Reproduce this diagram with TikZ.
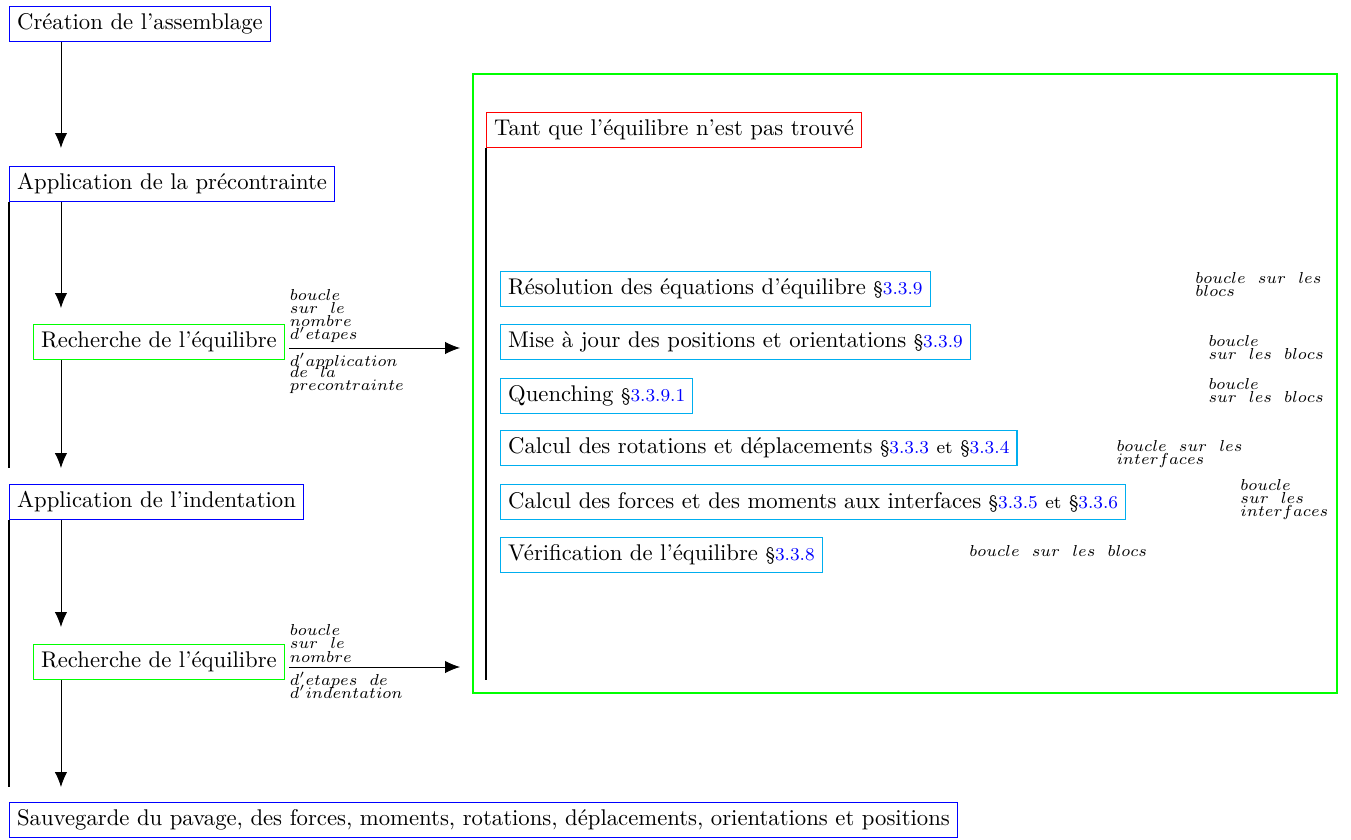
\documentclass[tikz,border=0pt]{standalone}
\usepackage{fontspec}
\usepackage{tikz}
\usetikzlibrary{arrows.meta,positioning}
\usepackage{xcolor}
\definecolor{etapeBorder}{HTML}{0000FF}
\definecolor{rechercheBorder}{HTML}{00FF00}
\definecolor{tantqueBorder}{HTML}{FF0000}
\definecolor{calculBorder}{HTML}{00AEEF}
\definecolor{renvoiColor}{HTML}{0000FF}
\newcommand{\renvoi}[1]{{\footnotesize\S\textcolor{renvoiColor}{#1}}}

\begin{document}
\begin{tikzpicture}[
        etape/.style={
            draw=etapeBorder,
            line width=0.5pt,
            anchor=west
        },
        recherche/.style={
            draw=rechercheBorder,
            line width=0.5pt,
            anchor=west
        },
        calcul/.style={
            draw=calculBorder,
            line width=0.5pt,
            anchor=west
        },
        boucle/.style={
            font=\scriptsize,
            align=left,
            inner sep=0pt
        },
        arrow/.style={
            -{Latex[length=2.3mm,width=1.9mm]}
        },
        barre/.style={
            line width=1.3pt
        }
    ]

    \useasboundingbox (0,0) rectangle (20.913,-12.988);

    % colonne de gauche
    \node[etape] (creation) at (0.139,-0.372)
        {Création de l’assemblage};
    \node[etape] (precontrainte) at (0.139,-2.848)
        {Application de la précontrainte};
    \node[recherche] (recherche1) at (0.511,-5.294)
        {Recherche de l’équilibre};
    \node[etape] (indentation) at (0.139,-7.771)
        {Application de l’indentation};
    \node[recherche] (recherche2) at (0.511,-10.248)
        {Recherche de l’équilibre};
    \node[etape] (sauvegarde) at (0.139,-12.693)
        {Sauvegarde du pavage, des forces, moments, rotations, déplacements, orientations et positions};

    \coordinate (fleche1) at (0.944,-2.291);
    \coordinate (fleche2) at (0.944,-4.768);
    \coordinate (fleche3) at (0.944,-7.245);
    \coordinate (fleche4) at (0.944,-9.706);
    \coordinate (fleche5) at (0.944,-12.183);

    \draw[arrow] (fleche1 |- creation.south) -- (fleche1);
    \draw[arrow] (fleche2 |- precontrainte.south) -- (fleche2);
    \draw[arrow] (fleche3 |- recherche1.south) -- (fleche3);
    \draw[arrow] (fleche4 |- indentation.south) -- (fleche4);
    \draw[arrow] (fleche5 |- recherche2.south) -- (fleche5);

    \draw[barre] (precontrainte.south west) -- (precontrainte.south west |- fleche3);
    \draw[barre] (indentation.south west) -- (indentation.south west |- fleche5);

    \coordinate (vers1) at (7.121,-5.387);
    \coordinate (vers2) at (7.121,-10.325);

    \draw[arrow] ([xshift=2pt]recherche1.east |- vers1) -- (vers1)
        node[boucle, pos=0, above right=2pt and 0pt]
            {$boucle$\\[-2.2pt]$sur\ \ le$\\[-2.2pt]$nombre$\\[-2.2pt]$d'etapes$}
        node[boucle, pos=0, below right=2pt and 0pt]
            {$d'application$\\[-3pt]$de\ \ la$\\[-2.2pt]$precontrainte$};
    \draw[arrow] ([xshift=2pt]recherche2.east |- vers2) -- (vers2)
        node[boucle, pos=0, above right=2pt and 0pt]
            {$boucle$\\[-2.2pt]$sur\ \ le$\\[-2.2pt]$nombre$}
        node[boucle, pos=0, below right=2pt and 0pt]
            {$d'etapes\ \ de$\\[-2.2pt]$d'indentation$};

    % boucle d'equilibre
    \draw[draw=rechercheBorder, line width=0.5pt] (7.322,-1.146) rectangle (20.697,-10.728);

    \node[draw=tantqueBorder, line width=0.5pt, anchor=west] (tantque) at (7.523,-2.012)
        {Tant que l’équilibre n’est pas trouvé};
    \coordinate (fin) at (7.523,-10.526);
    \draw[barre] (tantque.south west) -- (tantque.south west |- fin);

    \node[calcul] (resolution) at (7.740,-4.474)
        {Résolution des équations d’équilibre \renvoi{3.3.9}};
    \node[calcul] (miseajour) at (7.740,-5.294)
        {Mise à jour des positions et orientations \renvoi{3.3.9}};
    \node[calcul] (quenching) at (7.740,-6.130)
        {Quenching \renvoi{3.3.9.1}};
    \node[calcul] (rotations) at (7.740,-6.935)
        {Calcul des rotations et déplacements \renvoi{3.3.3} {\footnotesize et} \renvoi{3.3.4}};
    \node[calcul] (forces) at (7.740,-7.771)
        {Calcul des forces et des moments aux interfaces \renvoi{3.3.5} {\footnotesize et} \renvoi{3.3.6}};
    \node[calcul] (verification) at (7.740,-8.591)
        {Vérification de l’équilibre \renvoi{3.3.8}};

    \node[boucle, anchor=north west] (boucleA) at (18.498,-4.211)
        {$boucle\ \ sur\ \ les$\\[-2.2pt]$blocs$};
    \node[boucle, anchor=north west] (boucleB) at (18.700,-5.186)
        {$boucle$\\[-2.2pt]$sur\ \ les\ \ blocs$};
    \node[boucle, anchor=north west] (boucleC) at (18.700,-5.851)
        {$boucle$\\[-2.2pt]$sur\ \ les\ \ blocs$};
    \node[boucle, anchor=north west] (boucleD) at (17.276,-6.811)
        {$boucle\ \ sur\ \ les$\\[-2.2pt]$interfaces$};
    \node[boucle, anchor=north west] (boucleE) at (19.195,-7.415)
        {$boucle$\\[-2.2pt]$sur\ \ les$\\[-2.2pt]$interfaces$};
    \node[boucle, anchor=north west] (boucleF) at (15.000,-8.437)
        {$boucle\ \ sur\ \ les\ \ blocs$};

\end{tikzpicture}
\end{document}
